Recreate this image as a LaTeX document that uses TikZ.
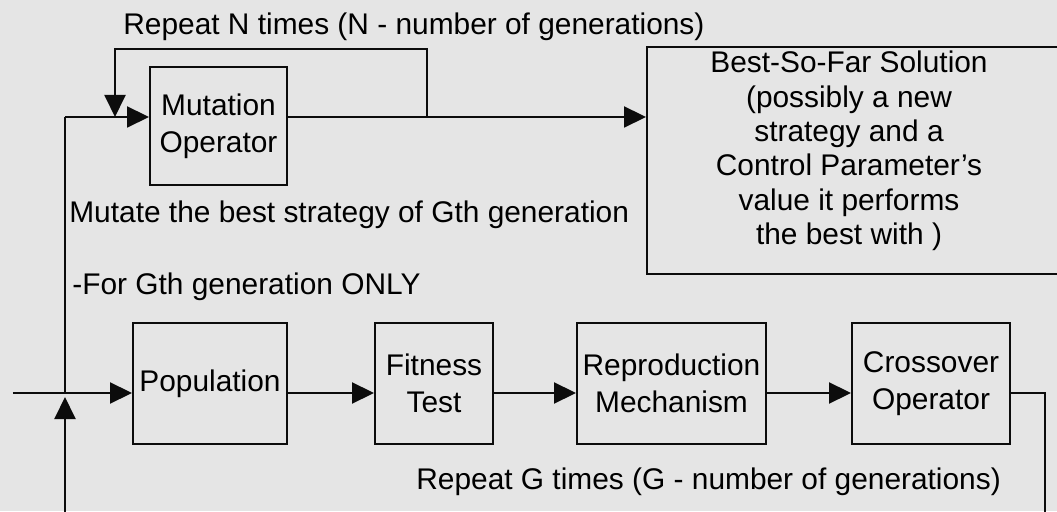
\documentclass[tikz,border=0pt]{standalone}
\usepackage{fontspec}
\setmainfont{Liberation Sans}
\usetikzlibrary{arrows.meta,calc,positioning}
\definecolor{flowbg}{RGB}{229,229,229}
\definecolor{flowline}{RGB}{12,12,12}

\begin{document}
\begin{tikzpicture}[
    box/.style={draw=flowline, line width=1.1pt, align=center, inner sep=0pt, font=\fontsize{17}{21}\selectfont},
    lbl/.style={inner sep=0pt, font=\fontsize{17}{21}\selectfont},
    flow/.style={draw=flowline, line width=1.1pt},
    arr/.style={flow, -{Triangle[length=4.4mm, width=4.2mm]}}
  ]
  \useasboundingbox (0,0) rectangle (21.14,10.22);
  \clip (0,0) rectangle (21.14,10.22);
  \fill[flowbg] (0,0) rectangle (21.14,10.22);

  % Upper branch: mutation of the best strategy
  \node[box, minimum width=2.74cm, minimum height=2.36cm] (mut) at (4.37,7.70) {Mutation\\Operator};
  \node[box, minimum width=8.46cm, minimum height=4.54cm] (best) at (17.17,7.01) {};
  \node[lbl, align=center, font=\fontsize{17}{19.6}\selectfont] (besttxt) at (16.98,7.20) {Best-So-Far Solution\\(possibly a new\\strategy and a\\Control Parameter's\\value it performs\\the best with )};

  % Lower branch: one generation
  \node[box, minimum width=3.08cm, minimum height=2.42cm] (pop) at (4.20,2.55) {Population};
  \node[box, minimum width=2.36cm, minimum height=2.42cm] (fit) at (8.68,2.55) {Fitness\\Test};
  \node[box, minimum width=3.78cm, minimum height=2.42cm] (rep) at (13.43,2.55) {Reproduction\\Mechanism};
  \node[box, minimum width=3.16cm, minimum height=2.42cm] (cross) at (18.62,2.55) {Crossover\\Operator};

  % Labels
  \node[lbl, anchor=base west] (repN) at (2.46,9.52) {Repeat N times (N - number of generations)};
  \node[lbl, anchor=base west] (mutnote) at (1.38,5.76) {Mutate the best strategy of Gth generation};
  \node[lbl, anchor=base west] (gonly) at (1.44,4.32) {-For Gth generation ONLY};
  \node[lbl, anchor=base west] (repG) at (8.32,0.44) {Repeat G times (G - number of generations)};

  % Junctions and loop corners
  \coordinate (src) at (0.26,2.36);
  \coordinate (split) at (1.30,2.36);
  \coordinate (tl) at (1.30,7.88);
  \coordinate (fbtop) at (8.54,9.24);
  \coordinate (fbdrop) at (2.30,9.24);
  \coordinate (loopR) at (20.90,-0.5);
  \coordinate (loopL) at (1.30,-0.5);

  % Connectors
  \draw[arr] (src) -- (split -| pop.west);
  \draw[flow] (split) -- (tl);
  \draw[arr] (tl) -- (tl -| mut.west);
  \draw[arr] (tl -| mut.east) -- (tl -| best.west);
  \draw[arr] (tl -| fbtop) -- (fbtop) -- (fbdrop) -- (fbdrop |- tl);
  \draw[arr] (split -| pop.east) -- (split -| fit.west);
  \draw[arr] (split -| fit.east) -- (split -| rep.west);
  \draw[arr] (split -| rep.east) -- (split -| cross.west);
  \draw[arr] (split -| cross.east) -- (split -| loopR) -- (loopR) -- (loopL) -- ($(split)+(0,-0.08)$);
\end{tikzpicture}
\end{document}
